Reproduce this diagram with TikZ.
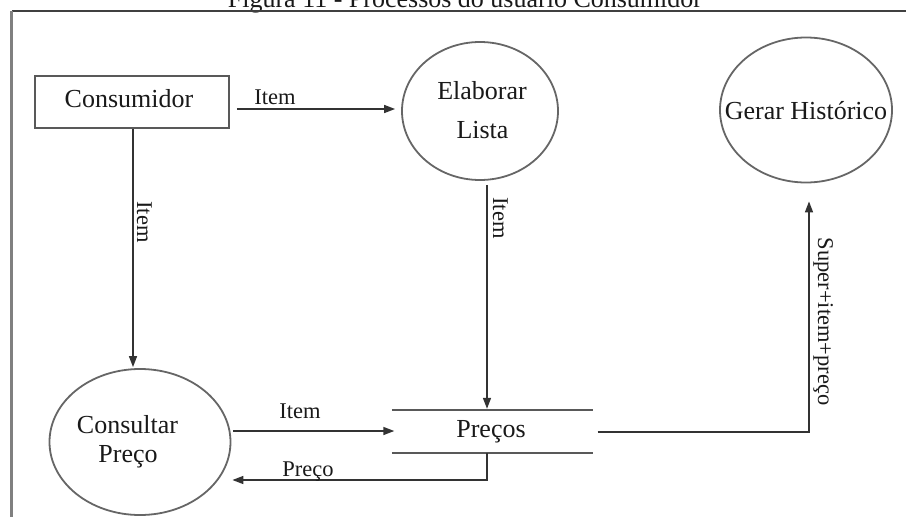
\documentclass[tikz,border=0pt]{standalone}
\usepackage{fontspec}
\setmainfont{Liberation Serif}
\usetikzlibrary{shapes.geometric,arrows.meta,calc}
\begin{document}
\begin{tikzpicture}[x=1pt,y=-1pt,
  nodetext/.style={font=\fontsize{26}{30}\selectfont, inner sep=0pt, anchor=base, text=black!90},
  flowlabel/.style={font=\fontsize{22.5}{27}\selectfont, inner sep=0pt, anchor=base, text=black!90},
  entity/.style={draw=black!65, line width=1.6pt, minimum width=194pt, minimum height=52pt, inner sep=0pt},
  process/.style={ellipse, draw=black!60, line width=1.8pt, inner sep=0pt},
  store/.style={minimum width=201pt, minimum height=43pt, inner sep=0pt},
  storeline/.style={draw=black!65, line width=1.8pt},
  flow/.style={draw=black!80, line width=1.5pt, -{Triangle[length=11pt,width=8pt]}},
]
\useasboundingbox (0,0) rectangle (906,517);

% caption and frame
\node[nodetext] (caption) at (465,7) {Figura 11 - Processos do usuário Consumidor};
\draw[line width=2pt, draw=black!75] (906,10.5) -- (11.5,10.5);
\draw[line width=2.2pt, draw=black!50] (11.5,10.5) -- (11.5,517);

% external entity
\node[entity] (cons) at (132,102) {};
\node[nodetext] (cons-txt) at (129,107) {Consumidor};

% processes
\node[process, minimum width=156pt, minimum height=138pt] (elab) at (480,111) {};
\node[nodetext] (elab-txt1) at (482,99) {Elaborar};
\node[nodetext] (elab-txt2) at (482.5,138) {Lista};

\node[process, minimum width=172pt, minimum height=145pt] (gerar) at (806,110) {};
\node[nodetext] (gerar-txt) at (806,119) {Gerar Histórico};

\node[process, minimum width=181pt, minimum height=146pt] (consul) at (140,442) {};
\node[nodetext] (consul-txt1) at (127.5,433) {Consultar};
\node[nodetext] (consul-txt2) at (128,462) {Preço};

% data store
\node[store] (prec) at (492.5,431.5) {};
\draw[storeline] (prec.north west) -- (prec.north east);
\draw[storeline] (prec.south west) -- (prec.south east);
\node[nodetext] (prec-txt) at (491,437) {Preços};

% data flows
\draw[flow] ($(cons.east)+(7,7)$) -- ($(elab.west)+(-6,-2)$);
\node[flowlabel] (lab-item1) at (275,104) {Item};

\draw[flow] ($(cons.south)+(1,0)$) -- ($(consul.north)+(-7,-1)$);
\node[flowlabel, rotate=-90] (lab-item2) at (137,222) {Item};

\draw[flow] ($(elab.south)+(7,4)$) -- ($(prec.north)+(-5.5,-1)$);
\node[flowlabel, rotate=-90] (lab-item3) at (493,218) {Item};

\draw[flow] ($(consul.east)+(2,-11)$) -- ($(prec.west)+(2.5,-0.5)$);
\node[flowlabel] (lab-item4) at (300,418) {Item};

\draw[flow] ($(prec.south)+(-5.5,0)$) |- ($(consul.east)+(1,38)$);
\node[flowlabel] (lab-preco) at (308,476) {Preço};

\draw[flow] ($(prec.east)+(4.5,0.5)$) -| ($(gerar.south)+(3,18)$);
\node[flowlabel, rotate=-90] (lab-super) at (818,321.5) {Super+item+preço};
\end{tikzpicture}
\end{document}
